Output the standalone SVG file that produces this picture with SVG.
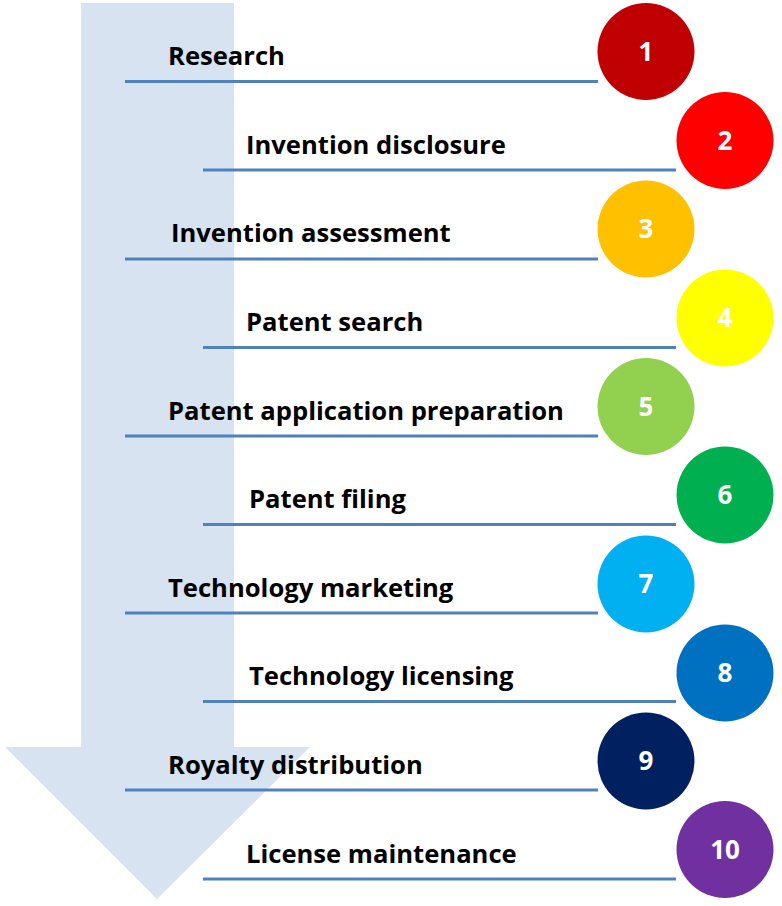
<svg xmlns="http://www.w3.org/2000/svg" width="782" height="906" viewBox="0 0 782 906">
<style>
.lbl{font-family:"Open Sans","Liberation Sans",sans-serif;font-weight:bold;font-size:25.6px;fill:#000}
.num{font-family:"Open Sans","Liberation Sans",sans-serif;font-weight:bold;font-size:26px;fill:#fff;text-anchor:middle}
.ln{stroke:#4F81BD;stroke-width:3}
</style>
<rect width="782" height="906" fill="#fff"/>
<path id="flow-arrow" d="M81,3 H234 V747 H310 L157,899 L5,747 H81 Z" fill="#D7E3F1"/>
<g id="connectors">
<line class="ln" x1="125" y1="81.5" x2="598" y2="81.5"/>
<line class="ln" x1="203" y1="170" x2="676" y2="170"/>
<line class="ln" x1="125" y1="259" x2="598" y2="259"/>
<line class="ln" x1="203" y1="347.5" x2="676" y2="347.5"/>
<line class="ln" x1="125" y1="436" x2="598" y2="436"/>
<line class="ln" x1="203" y1="524.5" x2="676" y2="524.5"/>
<line class="ln" x1="125" y1="613" x2="598" y2="613"/>
<line class="ln" x1="203" y1="701.5" x2="676" y2="701.5"/>
<line class="ln" x1="125" y1="790" x2="598" y2="790"/>
<line class="ln" x1="203" y1="879" x2="676" y2="879"/>
</g>
<g id="step1"><text class="lbl" x="168" y="65">Research</text><circle cx="646" cy="51.5" r="48.5" fill="#C00000"/><text class="num" x="646" y="60.5">1</text></g>
<g id="step2"><text class="lbl" x="246" y="154">Invention disclosure</text><circle cx="725" cy="140.5" r="48.5" fill="#FF0000"/><text class="num" x="725" y="149.5">2</text></g>
<g id="step3"><text class="lbl" x="171" y="242">Invention assessment</text><circle cx="646" cy="229" r="48.5" fill="#FFC000"/><text class="num" x="646" y="238">3</text></g>
<g id="step4"><text class="lbl" x="246" y="331">Patent search</text><circle cx="725" cy="318" r="48.5" fill="#FFFF00"/><text class="num" x="725" y="327">4</text></g>
<g id="step5"><text class="lbl" x="168" y="420">Patent application preparation</text><circle cx="646" cy="406.5" r="48.5" fill="#92D050"/><text class="num" x="646" y="415.5">5</text></g>
<g id="step6"><text class="lbl" x="249" y="508">Patent filing</text><circle cx="725" cy="495" r="48.5" fill="#00B050"/><text class="num" x="725" y="504">6</text></g>
<g id="step7"><text class="lbl" x="168" y="597">Technology marketing</text><circle cx="646" cy="584" r="48.5" fill="#00B0F0"/><text class="num" x="646" y="593">7</text></g>
<g id="step8"><text class="lbl" x="249" y="685">Technology licensing</text><circle cx="725" cy="673" r="48.5" fill="#0070C0"/><text class="num" x="725" y="682">8</text></g>
<g id="step9"><text class="lbl" x="168" y="774">Royalty distribution</text><circle cx="646" cy="761" r="48.5" fill="#002060"/><text class="num" x="646" y="770">9</text></g>
<g id="step10"><text class="lbl" x="246" y="863">License maintenance</text><circle cx="725" cy="849.5" r="48.5" fill="#7030A0"/><text class="num" x="725" y="858.5">10</text></g>
</svg>
